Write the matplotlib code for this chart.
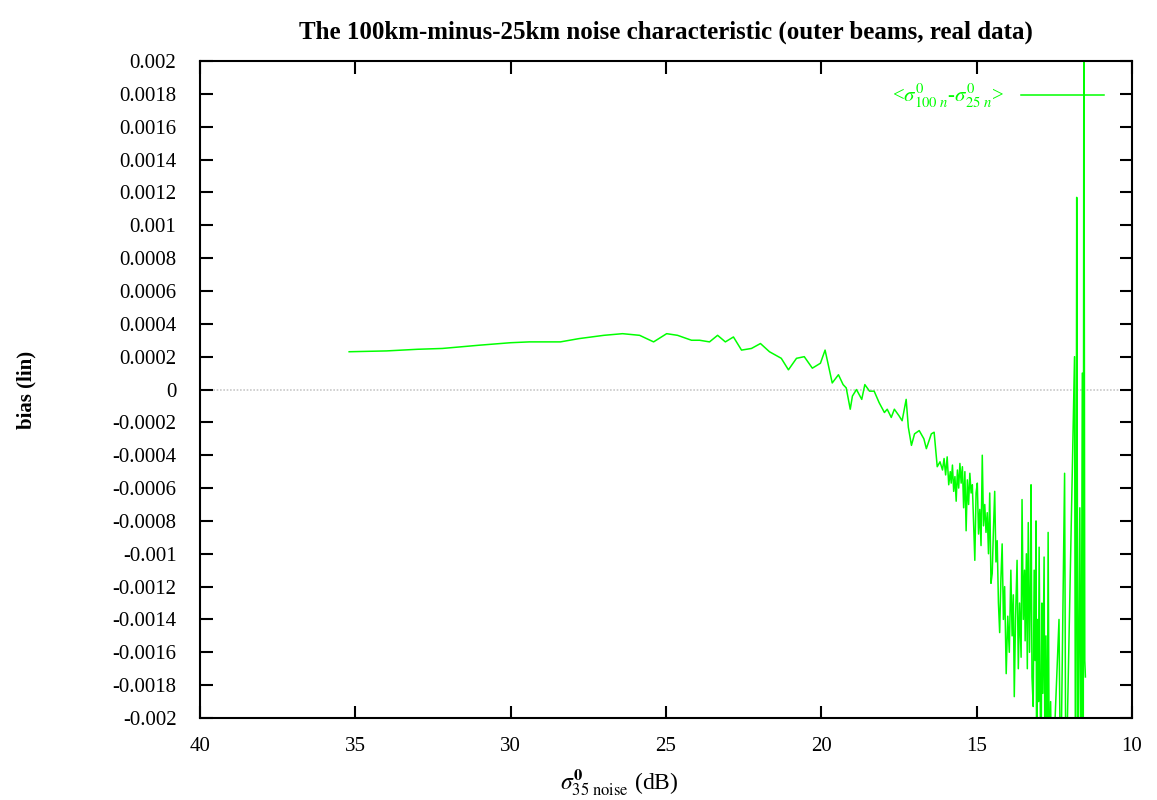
import numpy as np
import matplotlib.pyplot as plt

# sigma0 (dB) and mean bias (lin)
sigma_db = [35.2, 34.0, 33.0, 32.2, 31.0, 30.0, 29.4, 28.4, 27.8, 27.0, 26.4, 25.85,
            25.4, 24.98, 24.63, 24.18, 23.92, 23.6, 23.34, 23.09, 22.83, 22.57, 22.25,
            21.96, 21.67, 21.29, 21.06, 20.8, 20.55, 20.29, 20.03, 19.88, 19.65, 19.45,
            19.3, 19.2, 19.07, 19.0, 18.87, 18.7, 18.6, 18.45, 18.3, 18.14, 17.97, 17.88,
            17.75, 17.65, 17.5, 17.4, 17.27, 17.2, 17.1, 17.0, 16.85, 16.7, 16.62, 16.46,
            16.37, 16.27, 16.18,
            16.10, 16.05, 16.00, 15.95, 15.90, 15.85, 15.82, 15.78, 15.74, 15.70, 15.66,
            15.62, 15.58, 15.54, 15.50, 15.46, 15.42, 15.38, 15.34, 15.30, 15.26, 15.22,
            15.18, 15.14, 15.10, 15.06, 15.02, 14.98, 14.94, 14.90, 14.86, 14.82, 14.78,
            14.74, 14.70, 14.66, 14.62, 14.58, 14.54, 14.50, 14.46, 14.42, 14.38, 14.34,
            14.30, 14.26, 14.22, 14.18, 14.14, 14.10, 14.05, 14.00, 13.95, 13.90, 13.86,
            13.82, 13.79, 13.75, 13.70, 13.66, 13.62, 13.57, 13.54, 13.50, 13.46, 13.44,
            13.40, 13.37, 13.34, 13.30, 13.27, 13.25, 13.22, 13.18, 13.15, 13.12, 13.09,
            13.07, 13.04, 13.01, 12.99, 12.96, 12.93, 12.90, 12.87, 12.83, 12.80, 12.77,
            12.73, 12.70, 12.66, 12.62, 12.58,
            12.35, 12.3, 12.17, 12.13, 11.85, 11.82, 11.80, 11.78, 11.74, 11.68, 11.64,
            11.60, 11.57, 11.55, 11.52, 11.5]
bias = [0.00023, 0.000235, 0.000245, 0.00025, 0.00027, 0.000285, 0.00029, 0.00029,
        0.00031, 0.00033, 0.00034, 0.00033, 0.00029, 0.00034, 0.00033, 0.0003,
        0.0003, 0.00029, 0.00033, 0.00029, 0.00032, 0.00024, 0.00025, 0.00028,
        0.00023, 0.00019, 0.00012, 0.00019, 0.0002, 0.00013, 0.00016, 0.00024,
        0.00004, 0.00009, 0.00003, 0.00001, -0.00012, -0.00004, 0.0, -0.00006,
        0.00003, -0.00001, -0.00001, -0.00008, -0.00014, -0.00012, -0.00017,
        -0.00012, -0.00016, -0.00019, -0.00006, -0.00023, -0.00034, -0.00027,
        -0.00025, -0.0003, -0.00036, -0.00027, -0.00026, -0.00047, -0.00044,
        -0.00049, -0.00042, -0.00052, -0.00041, -0.00058, -0.00050, -0.00057,
        -0.00046, -0.00062, -0.00053, -0.00068, -0.00049, -0.00060, -0.00045,
        -0.00057, -0.00047, -0.00072, -0.00050, -0.00086, -0.00055, -0.00070,
        -0.00051, -0.00063, -0.00058, -0.00082, -0.00104, -0.00063, -0.00057,
        -0.00088, -0.00073, -0.00095, -0.00040, -0.00083, -0.00070, -0.00087,
        -0.00075, -0.00100, -0.00063, -0.00118, -0.00112, -0.00085, -0.00062,
        -0.00105, -0.00092, -0.00130, -0.00148, -0.00115, -0.00094, -0.00140,
        -0.00120, -0.00173, -0.00138, -0.00160, -0.00110, -0.00150, -0.00125,
        -0.00187, -0.00140, -0.00104, -0.00170, -0.00130, -0.00163, -0.00067,
        -0.00140, -0.00110, -0.00153, -0.00100, -0.00170, -0.00081, -0.00160,
        -0.00120, -0.00058, -0.00175, -0.00193, -0.00110, -0.00165, -0.00080,
        -0.0025, -0.00140, -0.00190, -0.00096, -0.00170, -0.0025, -0.00130,
        -0.00185, -0.00102, -0.0025, -0.00150, -0.0025, -0.00087, -0.0025,
        -0.00190, -0.0025,
        -0.0014, -0.0025, -0.00051, -0.0025, 0.0002, -0.0025, -0.00145, 0.00117,
        -0.0025, -0.00072, -0.0025, 0.0001, -0.0025, 0.0025, -0.00165, -0.00175]

yticks = [0.002, 0.0018, 0.0016, 0.0014, 0.0012, 0.001, 0.0008, 0.0006, 0.0004,
          0.0002, 0, -0.0002, -0.0004, -0.0006, -0.0008, -0.001, -0.0012, -0.0014,
          -0.0016, -0.0018, -0.002]
ytick_labels = ['0.002', '0.0018', '0.0016', '0.0014', '0.0012', '0.001', '0.0008',
                '0.0006', '0.0004', '0.0002', '0', '-0.0002', '-0.0004', '-0.0006',
                '-0.0008', '-0.001', '-0.0012', '-0.0014', '-0.0016', '-0.0018', '-0.002']
xticks = [40, 35, 30, 25, 20, 15, 10]

plt.rcParams['font.family'] = ['Liberation Serif', 'DejaVu Serif']
plt.rcParams['mathtext.fontset'] = 'stix'

fig = plt.figure(figsize=(11.57, 8.0), dpi=100)
ax = fig.add_axes([0.1729, 0.1025, 0.8055, 0.8212])

ax.axhline(0, color='#c8c8c8', linewidth=1.2, linestyle=(0, (1, 1)), zorder=1)
ax.plot(sigma_db, bias, color='#00ff00', linewidth=1.1, zorder=2,
        label=r'<$\sigma^{0}_{100\ n}$-$\sigma^{0}_{25\ n}$>')

ax.set_xlim(40, 10)
ax.set_ylim(-0.002, 0.002)
ax.set_xticks(xticks)
ax.set_xticklabels([str(v) for v in xticks])
ax.set_yticks(yticks)
ax.set_yticklabels(ytick_labels)
ax.tick_params(direction='in', length=9, width=1.5, labelsize=15,
               top=True, right=True)
ax.tick_params(axis='y', pad=17)
ax.tick_params(axis='x', pad=14)
for s in ax.spines.values():
    s.set_linewidth(1.5)

ax.set_title('The 100km-minus-25km noise characteristic (outer beams, real data)',
             fontsize=18, fontweight='bold', pad=16)
ax.set_ylabel('bias (lin)', fontsize=15, fontweight='bold')
ax.yaxis.set_label_coords(-0.176, 0.5)
ax.set_xlabel(r'$\sigma^{\mathbf{0}}_{\rm 35\ noise}$ (dB)', fontsize=17)
ax.xaxis.set_label_coords(0.45, -0.075)

leg = ax.legend(loc='upper right', frameon=False, markerfirst=False, handlelength=4.0,
                fontsize=15, labelcolor='#00ff00', bbox_to_anchor=(0.99, 0.995))

plt.savefig('out.png', dpi=100)
